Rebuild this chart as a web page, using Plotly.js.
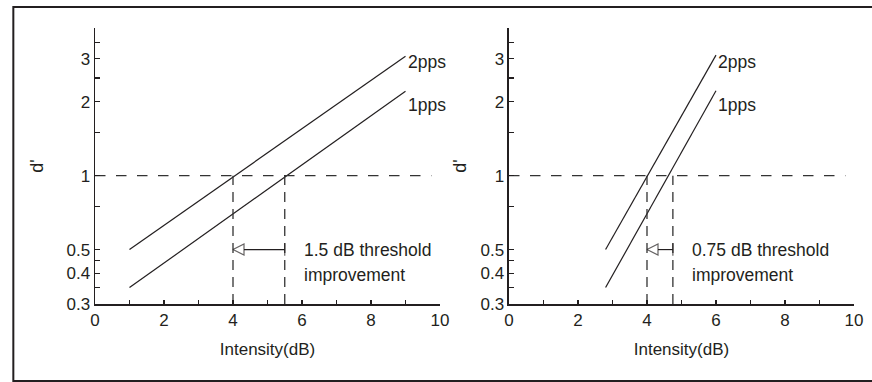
<!DOCTYPE html>
<html><head><meta charset="utf-8">
<script src="https://cdn.plot.ly/plotly-3.0.1.min.js"></script>
<style>html,body{margin:0;padding:0;background:#fff}</style>
</head><body><div id="chart" style="width:872px;height:382px"></div>
<script>
// ---- data ----
const intensityL = [1, 9];
const dp2ppsL = [0.5, 3.07];
const dp1ppsL = [0.35, 2.21];
const intensityR = [2.8, 6.0];
const dp2ppsR = [0.5, 3.1];
const dp1ppsR = [0.35, 2.22];
const thresholdsL = [4, 5.5];
const thresholdsR = [4, 4.75];
const criterion = 1;
const arrowLevel = 0.5;
const yFloor = 0.3;
const criterionX = [0, 9.75];
const xTickVals = [0, 2, 4, 6, 8, 10];
const xMinorVals = [1, 3, 5, 7, 9];
const yTickVals = [0.3, 0.4, 0.5, 1, 2, 3];
const yTickText = ['0.3', '0.4', '0.5', '1', '2', '3'];
const yMinorVals = [0.35, 0.45, 0.75, 1.5, 2.5, 3.5];
const seriesNames = ['2pps', '1pps'];
const seriesLabelY = [2.9, 1.95];
const noteX = [6, 5.25];
const noteTextL = ['1.5 dB threshold', 'improvement'];
const noteTextR = ['0.75 dB threshold', 'improvement'];

const INK = '#231f20';
const FONT = 'Liberation Sans, Arial, Helvetica, sans-serif';

function panelTraces(xs, y2, y1, thr, xa, ya) {
  const base = {xaxis: xa, yaxis: ya, hoverinfo: 'skip', showlegend: false};
  return [
    Object.assign({}, base, {x: xs, y: y2, mode: 'lines', name: seriesNames[0], line: {color: INK, width: 1.2}}),
    Object.assign({}, base, {x: xs, y: y1, mode: 'lines', name: seriesNames[1], line: {color: INK, width: 1.2}}),
    Object.assign({}, base, {x: criterionX, y: [criterion, criterion], mode: 'lines', line: {color: '#333', width: 1.3, dash: '10.5px,10.5px'}}),
    Object.assign({}, base, {x: [thr[0], thr[0], null, thr[1], thr[1]], y: [yFloor, criterion, null, yFloor, criterion], mode: 'lines', line: {color: '#333', width: 1.3, dash: '10px,7px'}}),
    Object.assign({}, base, {x: [thr[1], thr[0]], y: [arrowLevel, arrowLevel], mode: 'lines+markers',
      line: {color: INK, width: 1.2, backoff: 11},
      marker: {symbol: ['line-ns-open', 'arrow-left-open'], size: [9, 11], color: INK, line: {color: INK, width: 1.2}}})
  ];
}

const data = [].concat(
  panelTraces(intensityL, dp2ppsL, dp1ppsL, thresholdsL, 'x', 'y'),
  panelTraces(intensityR, dp2ppsR, dp1ppsR, thresholdsR, 'x2', 'y2')
);

function xAxis(domain, anchor) {
  return {
    domain: domain, anchor: anchor, range: [0, 10], tickmode: 'array', tickvals: xTickVals,
    ticks: 'inside', ticklen: 4, tickwidth: 1.2, tickcolor: INK,
    minor: {tickmode: 'array', tickvals: xMinorVals, ticks: 'inside', ticklen: 4, tickwidth: 1.2, tickcolor: INK},
    showline: true, linecolor: INK, linewidth: 1.5, showgrid: false, zeroline: false,
    tickfont: {family: FONT, size: 17, color: INK},
    title: {text: 'Intensity(dB)', font: {family: FONT, size: 17, color: INK}, standoff: 14}
  };
}
function yAxis(anchor, standoff) {
  return {
    domain: [0, 1], anchor: anchor, type: 'log', range: [Math.log10(0.3), Math.log10(4)],
    tickmode: 'array', tickvals: yTickVals, ticktext: yTickText,
    ticks: 'inside', ticklen: 5, tickwidth: 1.2, tickcolor: INK,
    minor: {tickmode: 'array', tickvals: yMinorVals, ticks: 'inside', ticklen: 5, tickwidth: 1.2, tickcolor: INK},
    showline: true, linecolor: INK, linewidth: 1.5, showgrid: false, zeroline: false,
    tickfont: {family: FONT, size: 17, color: INK},
    title: {text: "d'", font: {family: FONT, size: 18, color: INK}, standoff: standoff}
  };
}

function notes(xa, ya, xs, thrNote, txt) {
  const f = {family: FONT, size: 17.5, color: INK};
  const out = [];
  seriesNames.forEach((n, i) => out.push({xref: xa, yref: ya, x: xs[1], y: Math.log10(seriesLabelY[i]),
    text: n, showarrow: false, xanchor: 'left', yanchor: 'middle', font: f}));
  out.push({xref: xa, yref: ya, x: thrNote, y: Math.log10(arrowLevel), text: txt[0], showarrow: false, xanchor: 'left', yanchor: 'middle', font: f});
  out.push({xref: xa, yref: ya, x: thrNote, y: Math.log10(arrowLevel), yshift: -25, text: txt[1], showarrow: false, xanchor: 'left', yanchor: 'middle', font: f});
  return out;
}

const layout = {
  width: 872, height: 382,
  margin: {l: 95, r: 18, t: 28, b: 78},
  paper_bgcolor: '#fff', plot_bgcolor: '#fff',
  showlegend: false, hovermode: false,
  xaxis: xAxis([0, 0.45455], 'y'),
  yaxis: yAxis('x', 18),
  xaxis2: xAxis([0.54545, 1], 'y2'),
  yaxis2: yAxis('x2', 9),
  annotations: [].concat(
    notes('x', 'y', intensityL, noteX[0], noteTextL),
    notes('x2', 'y2', intensityR, noteX[1], noteTextR)
  ),
  shapes: [{type: 'rect', xref: 'paper', yref: 'paper', x0: -0.1076, x1: 1.04, y0: -0.2794, y1: 1.0761,
    line: {color: INK, width: 2}, fillcolor: 'rgba(0,0,0,0)', layer: 'above'}]
};

Plotly.newPlot('chart', data, layout, {staticPlot: true, displayModeBar: false});
</script></body></html>
